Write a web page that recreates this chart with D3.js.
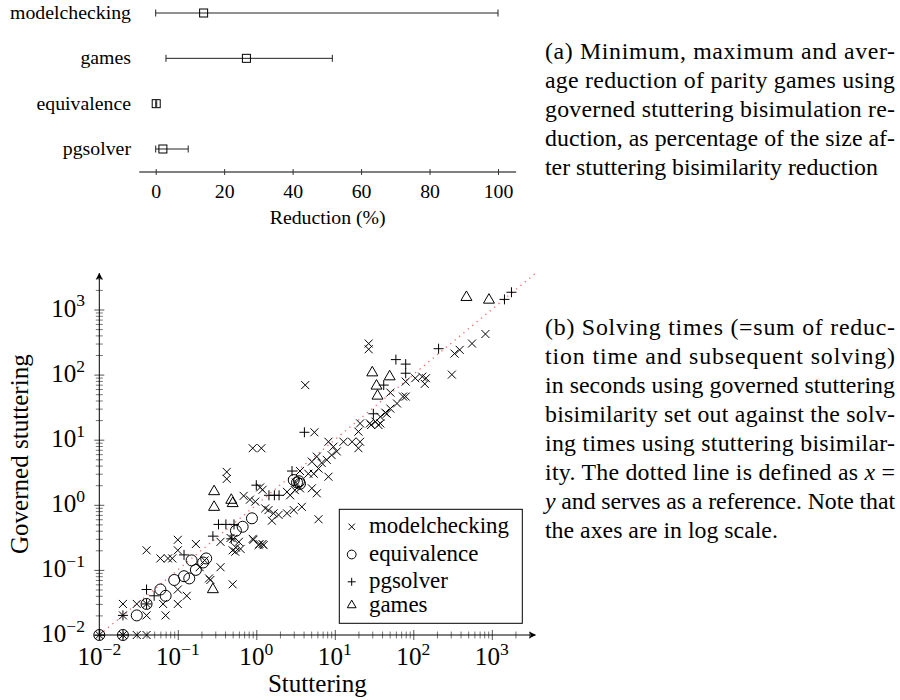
<!DOCTYPE html>
<html>
<head>
<meta charset="UTF-8">
<title>Governed stuttering bisimulation</title>
<style>
  body { margin: 0; background-color: #ffffff; }
  svg { display: block; }
</style>
</head>
<body>
<svg id="fig" width="900" height="700"></svg>
<script src="https://cdn.jsdelivr.net/npm/d3@7"></script>
<script>
// ---- (a) reduction ranges, in percent ----
var categories   = ["modelchecking", "games", "equivalence", "pgsolver"];
var minReduction = [0, 3, 0, 0];
var maxReduction = [100, 51.6, 0.3, 9.5];
var avgReduction = [14, 26.5, 0.15, 2.1];
var reductionTicks = [0, 20, 40, 60, 80, 100];

// ---- (b) solving times [stuttering, governed stuttering] in seconds ----
var modelchecking = [
  [0.01,0.01],[0.02,0.01],[0.03,0.01],[0.04,0.01],
  [0.02,0.02],[0.04,0.02],[0.07,0.02],
  [0.02,0.03],[0.03,0.03],[0.04,0.03],[0.065,0.03],[0.1,0.03],
  [0.13,0.04],[0.1,0.05],
  [0.04,0.2],[0.06,0.15],[0.075,0.15],[0.1,0.29],[0.1,0.2],[0.085,0.15],[0.17,0.25],
  [0.25,0.074],[0.35,0.11],[0.35,0.27],[0.5,0.06],[0.22,0.14],[0.19,0.11],[0.26,0.07],
  [0.47,0.31],[0.51,0.3],[0.5,0.2],[0.55,0.22],[0.6,0.27],[0.9,0.3],[1.1,0.25],[1.2,0.25],
  [0.54,0.19],[0.63,0.21],[0.92,0.29],[1.07,0.24],[1.24,0.24],
  [0.42,3.2],[0.42,2.5],[0.9,7.4],[1.16,7.4],
  [0.69,1.37],[0.83,1.2],[0.97,1.12],[1.12,1.85],[1.2,1.7],
  [2.46,1.58],[2.7,1.4],
  [1.3,0.88],[1.43,0.83],[1.66,0.74],[1.92,0.7],[2.46,0.74],[3.0,0.83],[3.8,0.93],[1.58,0.57],[6.2,0.6],
  [3.1,1.68],[3.6,1.79],[5.1,1.79],[5.9,1.5],
  [3.6,3.3],[4.6,3.0],[5.4,3.0],[6.2,3.6],[6.8,4.4],[7.9,4.9],[9.1,5.8],[10.6,6.6],[9.6,7.8],[8.3,9.3],
  [5.1,4.6],[5.9,5.5],[8.3,2.7],[3.2,2.2],
  [5.5,13],[4.2,69],
  [12.9,9.3],[16.6,9.3],[21,9.3],[20,7.4],[20,13.3],[21,17.8],[28,17.8],[36,16.8],[29,16.8],[38,17.8],
  [33,18.9],[38,22.5],[46,25],[44,26],[51,30],[62,36],[74,46],[80,46],[51,53],[80,78],
  [106,88],[130,93],[140,72],[145,88],
  [27,300],[27,245],[335,210],[390,240],[560,300],[830,420],[310,100]
];
var equivalence = [
  [0.01,0.01],[0.02,0.01],[0.03,0.02],[0.04,0.03],[0.06,0.05],[0.07,0.04],[0.09,0.07],
  [0.12,0.08],[0.14,0.074],[0.17,0.1],[0.15,0.14],[0.21,0.13],[0.23,0.15],
  [0.55,0.4],[0.67,0.46],[0.88,0.62],[3.0,2.4],[3.3,2.2],[3.5,2.3],[3.6,2.1]
];
var pgsolver = [
  [0.01,0.01],[0.02,0.01],[0.02,0.02],[0.04,0.03],[0.04,0.05],[0.05,0.04],[0.12,0.17],
  [0.28,0.33],[0.33,0.5],[0.41,0.5],[0.52,0.5],[0.48,0.3],[1.0,2.0],[1.45,1.4],[1.7,1.4],[1.95,1.4],
  [2.85,3.3],[4.1,13],[31,25],[42,69],[60,170],[80,145],[80,105],[210,250],[1450,1430],[1780,1840]
];
var games = [
  [0.28,0.05],[0.29,0.92],[0.29,1.6],[0.48,1.18],[0.5,1.05],
  [30,107],[50,93],[34,67],[35,47],[475,1540],[920,1400]
];
var logTicks = [0.01, 0.1, 1, 10, 100, 1000];
var logTickExp = ["\u22122", "\u22121", "0", "1", "2", "3"];
var axisMax = 3590;

var FONT = "Liberation Serif";
var svg = d3.select("#fig");

// pick font sizes so that a sample string has the width seen in the figure
function fitSize(sample, width) {
  var t = svg.append("text").attr("font-family", FONT).attr("font-size", 100).text(sample);
  var w = t.node().getComputedTextLength();
  t.remove();
  return 100 * width / w;
}
var fsA = fitSize("modelchecking", 121);
var fsB = fitSize("Stuttering", 99);
var fsLegend = fitSize("modelchecking", 140);
var fsCap = fitSize("ter stuttering bisimilarity reduction", 333);

// ================= (a) =================
var panelA = svg.append("g");
var xr = d3.scaleLinear().domain([0, 100]).range([155.7, 498]);
var yr = d3.scalePoint().domain(categories).range([13, 149]);

panelA.append("line")
  .attr("x1", xr(-4.8)).attr("x2", xr(105.3))
  .attr("y1", 172).attr("y2", 172)
  .attr("stroke", "#000").attr("stroke-width", 1);

panelA.append("g")
  .attr("transform", "translate(0,172)")
  .call(d3.axisBottom(xr).tickValues(reductionTicks).tickSizeOuter(0).tickSize(3))
  .call(function(g) {
    g.select(".domain").remove();
    g.selectAll(".tick line").attr("y1", -3).attr("y2", 3).attr("stroke", "#333");
    g.selectAll(".tick text").attr("y", 26).attr("dy", null).attr("fill", "#000")
      .attr("font-size", fsA);
  });

panelA.append("text")
  .attr("x", (xr(-4.8) + xr(105.3)) / 2).attr("y", 224)
  .attr("text-anchor", "middle").attr("font-size", fsA)
  .text("Reduction (%)");

categories.forEach(function(c, i) {
  var y = yr(c);
  panelA.append("text").attr("x", 131).attr("y", y + 6)
    .attr("text-anchor", "end").attr("font-size", fsA).text(c);
  var g = panelA.append("g").attr("stroke", "#222").attr("stroke-width", 1).attr("fill", "none");
  g.append("line").attr("x1", xr(minReduction[i])).attr("x2", xr(maxReduction[i]))
    .attr("y1", y).attr("y2", y);
  [minReduction[i], maxReduction[i]].forEach(function(v) {
    g.append("line").attr("x1", xr(v)).attr("x2", xr(v)).attr("y1", y - 3.5).attr("y2", y + 3.5);
  });
  g.append("rect").attr("x", xr(avgReduction[i]) - 4).attr("y", y - 4)
    .attr("width", 8).attr("height", 8).attr("stroke", "#000");
});

// ================= (b) =================
var xs = d3.scaleLog().domain([0.01, 1000]).range([99.3, 491.8]);
var ys = d3.scaleLog().domain([0.01, 1000]).range([635, 309.5]);
var plot = svg.append("g");

var minors = [];
for (var e = -2; e <= 3; e++) {
  for (var m = 2; m <= 9; m++) {
    var v = m * Math.pow(10, e);
    if (v < axisMax) minors.push(v);
  }
}

// minor and major ticks, crossing the axes
plot.append("g").attr("transform", "translate(0," + ys(0.01) + ")")
  .call(d3.axisBottom(xs).tickValues(minors).tickFormat("").tickSizeOuter(0))
  .call(function(g) {
    g.select(".domain").remove();
    g.selectAll(".tick line").attr("y1", -3.5).attr("y2", 3.5).attr("stroke", "#777");
  });
plot.append("g").attr("transform", "translate(0," + ys(0.01) + ")")
  .call(d3.axisBottom(xs).tickValues(logTicks).tickFormat("").tickSizeOuter(0))
  .call(function(g) {
    g.select(".domain").remove();
    g.selectAll(".tick line").attr("y1", -5).attr("y2", 5).attr("stroke", "#555");
  });
plot.append("g").attr("transform", "translate(" + xs(0.01) + ",0)")
  .call(d3.axisLeft(ys).tickValues(minors).tickFormat("").tickSizeOuter(0))
  .call(function(g) {
    g.select(".domain").remove();
    g.selectAll(".tick line").attr("x1", -3.5).attr("x2", 3.5).attr("stroke", "#777");
  });
plot.append("g").attr("transform", "translate(" + xs(0.01) + ",0)")
  .call(d3.axisLeft(ys).tickValues(logTicks).tickFormat("").tickSizeOuter(0))
  .call(function(g) {
    g.select(".domain").remove();
    g.selectAll(".tick line").attr("x1", -5).attr("x2", 5).attr("stroke", "#555");
  });

// axis lines with arrow heads
var defs = svg.append("defs");
defs.append("marker").attr("id", "arrow")
  .attr("viewBox", "0 0 10 10").attr("refX", 9).attr("refY", 5)
  .attr("markerWidth", 7).attr("markerHeight", 7).attr("markerUnits", "userSpaceOnUse")
  .attr("orient", "auto")
  .append("path").attr("d", "M0,0 L10,5 L0,10 L2.5,5 Z").attr("fill", "#000");

plot.append("line")
  .attr("x1", xs(0.01)).attr("x2", xs(axisMax)).attr("y1", ys(0.01)).attr("y2", ys(0.01))
  .attr("stroke", "#000").attr("stroke-width", 1).attr("marker-end", "url(#arrow)");
plot.append("line")
  .attr("x1", xs(0.01)).attr("x2", xs(0.01)).attr("y1", ys(0.01)).attr("y2", ys(axisMax))
  .attr("stroke", "#000").attr("stroke-width", 1).attr("marker-end", "url(#arrow)");

// tick labels 10^k
var fsSup = fsB * 0.7;
logTicks.forEach(function(t, i) {
  var tx = plot.append("text").attr("x", xs(t)).attr("y", 665)
    .attr("text-anchor", "middle").attr("font-size", fsB);
  tx.append("tspan").text("10");
  tx.append("tspan").attr("dy", -fsB * 0.4).attr("font-size", fsSup).text(logTickExp[i]);

  var ty = plot.append("text").attr("x", 85).attr("y", ys(t) + 7)
    .attr("text-anchor", "end").attr("font-size", fsB);
  ty.append("tspan").text("10");
  ty.append("tspan").attr("dy", -fsB * 0.4).attr("font-size", fsSup).text(logTickExp[i]);
});

plot.append("text")
  .attr("x", (xs(0.01) + xs(axisMax)) / 2).attr("y", 692)
  .attr("text-anchor", "middle").attr("font-size", fsB).text("Stuttering");
plot.append("text")
  .attr("transform", "translate(28," + (ys(0.01) + ys(axisMax)) / 2 + ") rotate(-90)")
  .attr("text-anchor", "middle").attr("font-size", fsB).text("Governed stuttering");

// x = y reference
plot.append("line")
  .attr("x1", xs(0.01)).attr("y1", ys(0.01)).attr("x2", xs(axisMax)).attr("y2", ys(axisMax))
  .attr("stroke", "#f03a3a").attr("stroke-width", 1.3).attr("stroke-dasharray", "1.2,4.5")
  .attr("opacity", 0.8);

// marks
function cross(s) { return "M" + (-s) + "," + (-s) + "L" + s + "," + s + "M" + (-s) + "," + s + "L" + s + "," + (-s); }
function plus(s) { return "M" + (-s) + ",0L" + s + ",0M0," + (-s) + "L0," + s; }
function circle(s) { return "M" + s + ",0A" + s + "," + s + " 0 1,1 " + (-s) + ",0A" + s + "," + s + " 0 1,1 " + s + ",0Z"; }
function tri(s) { var h = s * Math.sqrt(3); return "M0," + (-2 * h / 3) + "L" + s + "," + (h / 3) + "L" + (-s) + "," + (h / 3) + "Z"; }

var series = [
  { name: "modelchecking", data: modelchecking, shape: cross, size: 4 },
  { name: "equivalence", data: equivalence, shape: circle, size: 5.5 },
  { name: "pgsolver", data: pgsolver, shape: plus, size: 5 },
  { name: "games", data: games, shape: tri, size: 5.5 }
];

series.forEach(function(s) {
  plot.append("g").selectAll("path").data(s.data).enter().append("path")
    .attr("transform", function(d) { return "translate(" + xs(d[0]) + "," + ys(d[1]) + ")"; })
    .attr("d", s.shape(s.size))
    .attr("fill", "none").attr("stroke", "#000").attr("stroke-width", 1);
});

// legend
var lg = plot.append("g");
lg.append("rect").attr("x", 339.3).attr("y", 509.3).attr("width", 183).attr("height", 114)
  .attr("fill", "#fff").attr("stroke", "#000").attr("stroke-width", 1);
var legendBase = [533.3, 561, 588.3, 611.7];
series.forEach(function(s, i) {
  lg.append("path").attr("transform", "translate(351.7," + (legendBase[i] - 6.5) + ")")
    .attr("d", s.shape(s.size * 0.8))
    .attr("fill", "none").attr("stroke", "#000").attr("stroke-width", 1);
  lg.append("text").attr("x", 369).attr("y", legendBase[i]).attr("font-size", fsLegend).text(s.name);
});

// ================= captions =================
var captionA = [
  "(a) Minimum, maximum and aver-",
  "age reduction of parity games using",
  "governed stuttering bisimulation re-",
  "duction, as percentage of the size af-",
  "ter stuttering bisimilarity reduction"
];
var captionB = [
  "(b) Solving times (=sum of reduc-",
  "tion time and subsequent solving)",
  "in seconds using governed stuttering",
  "bisimilarity set out against the solv-",
  "ing times using stuttering bisimilar-",
  "ity. The dotted line is defined as |x| =",
  "|y| and serves as a reference. Note that",
  "the axes are in log scale."
];

function caption(lines, firstBase) {
  lines.forEach(function(line, i) {
    var t = svg.append("text").attr("x", 545).attr("y", firstBase + i * 29).attr("font-size", fsCap);
    line.split("|").forEach(function(part, k) {
      var ts = t.append("tspan").text(part);
      if (k % 2 === 1) ts.attr("font-style", "italic");
    });
    if (i < lines.length - 1) {
      t.attr("textLength", 350).attr("lengthAdjust", "spacing");
    }
  });
}
caption(captionA, 59);
caption(captionB, 335);

// every text in the figure uses the Times-like serif
svg.selectAll("text").attr("font-family", FONT);
</script>
</body>
</html>
